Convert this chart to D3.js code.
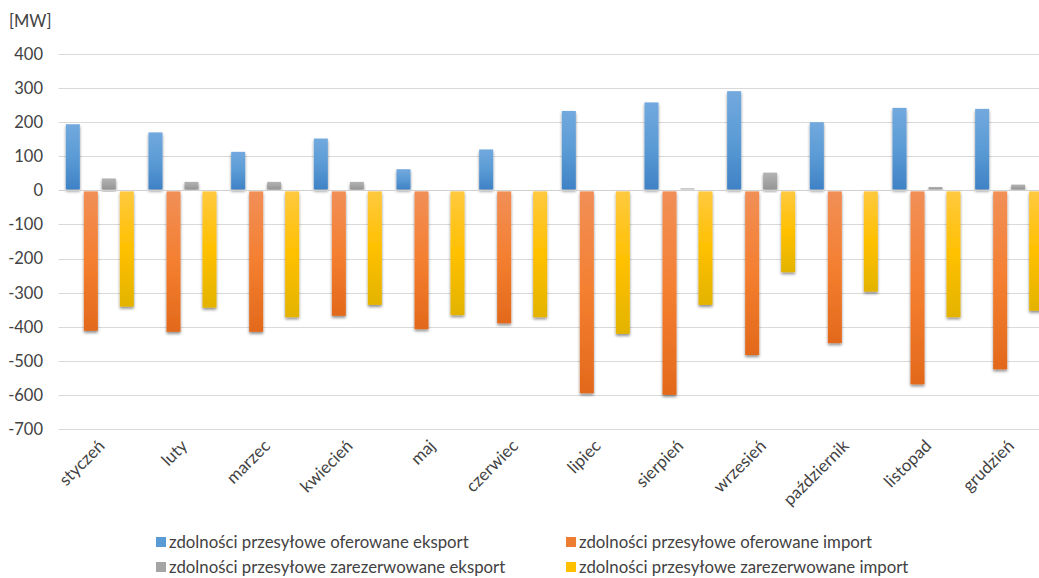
<!DOCTYPE html>
<html>
<head>
<meta charset="utf-8">
<script src="https://cdn.jsdelivr.net/npm/d3@7"></script>
<style>
  html, body { margin: 0; padding: 0; background: #fff; }
  svg { display: block; }
  text { font-family: Lato, "Open Sans", "Liberation Sans", sans-serif; fill: #424242; }
</style>
</head>
<body>
<svg id="chart" width="1039" height="578"></svg>
<script>
// Months (category axis)
const months = ["styczeń", "luty", "marzec", "kwiecień", "maj", "czerwiec",
                "lipiec", "sierpień", "wrzesień", "październik", "listopad", "grudzień"];

// Series names
const seriesNames = [
  "zdolności przesyłowe oferowane eksport",
  "zdolności przesyłowe oferowane import",
  "zdolności przesyłowe zarezerwowane eksport",
  "zdolności przesyłowe zarezerwowane import"
];

// Values in MW per month
const offeredExport  = [194, 170, 113, 152, 62, 120, 233, 258, 291, 200, 242, 239];
const offeredImport  = [-412, -415, -415, -368, -407, -390, -595, -600, -483, -448, -569, -525];
const reservedExport = [35, 25, 25, 25, 0, 0, 0, 6, 52, 0, 10, 17];
const reservedImport = [-341, -344, -372, -336, -366, -372, -421, -336, -240, -297, -372, -353];

// Y axis ticks
const yTicks = [400, 300, 200, 100, 0, -100, -200, -300, -400, -500, -600, -700];

const seriesValues = [offeredExport, offeredImport, reservedExport, reservedImport];

// Gradient stops per series (top, middle, bottom)
const seriesColors = [
  ["#72a9de", "#5b9bd5", "#3f82c6"],
  ["#f18f57", "#f47f30", "#e2691b"],
  ["#b3b3b3", "#a5a5a5", "#959595"],
  ["#ffc93f", "#ffc000", "#e3b300"]
];
const legendSwatch = ["#5b9bd5", "#ed7d31", "#a5a5a5", "#ffc000"];

const svg = d3.select("#chart");
const defs = svg.append("defs");

seriesColors.forEach((c, i) => {
  const g = defs.append("linearGradient")
    .attr("id", "grad" + i)
    .attr("x1", 0).attr("y1", 0).attr("x2", 0).attr("y2", 1);
  g.append("stop").attr("offset", "0%").attr("stop-color", c[0]);
  g.append("stop").attr("offset", "50%").attr("stop-color", c[1]);
  g.append("stop").attr("offset", "100%").attr("stop-color", c[2]);
});

// Soft drop shadow under the bars
const f = defs.append("filter").attr("id", "shadow")
  .attr("x", "-30%").attr("y", "-10%").attr("width", "160%").attr("height", "130%");
f.append("feGaussianBlur").attr("in", "SourceAlpha").attr("stdDeviation", 1.4).attr("result", "b");
f.append("feOffset").attr("in", "b").attr("dx", 0).attr("dy", 2).attr("result", "o");
f.append("feComponentTransfer").attr("in", "o").attr("result", "s")
  .append("feFuncA").attr("type", "linear").attr("slope", 0.45);
const m = f.append("feMerge");
m.append("feMergeNode").attr("in", "s");
m.append("feMergeNode").attr("in", "SourceGraphic");

const plotLeft = 58.5, plotRight = 1050.5;
const y = d3.scaleLinear().domain([-700, 400]).range([429, 54]);

const x0 = d3.scaleBand().domain(months).range([plotLeft, plotRight]).padding(0);
const groupGap = 14.67;
const x1 = d3.scaleBand().domain(d3.range(4))
  .range([groupGap / 2, x0.bandwidth() - groupGap / 2])
  .paddingInner(4 / 18).paddingOuter(0);

// Gridlines
svg.append("g").selectAll("line").data(yTicks.filter(d => d !== 0)).join("line")
  .attr("x1", plotLeft).attr("x2", 1039)
  .attr("y1", d => Math.round(y(d)) + 0.5).attr("y2", d => Math.round(y(d)) + 0.5)
  .attr("stroke", "#d9d9d9").attr("stroke-width", 1);

// Y tick labels
svg.append("g").selectAll("text").data(yTicks).join("text")
  .attr("x", 43).attr("y", d => y(d))
  .attr("dy", "0.36em")
  .attr("text-anchor", "end")
  .style("font-size", "16.5px")
  .text(d => d);

// Unit label
svg.append("text").attr("x", 9).attr("y", 27)
  .style("font-size", "16.5px").text("[MW]");

// Bars
const groups = svg.append("g").selectAll("g").data(months).join("g")
  .attr("transform", d => `translate(${x0(d)},0)`);

groups.selectAll("rect")
  .data((d, mi) => seriesValues.map((vals, si) => ({ si, v: vals[mi] })).filter(e => e.v !== 0))
  .join("rect")
  .attr("x", d => x1(d.si))
  .attr("width", x1.bandwidth())
  .attr("y", d => d.v > 0 ? y(d.v) : y(0) + 1)
  .attr("height", d => d.v > 0 ? y(0) - 1 - y(d.v) : y(d.v) - y(0) - 1)
  .attr("fill", d => `url(#grad${d.si})`)
  .attr("filter", "url(#shadow)");

// Zero axis line
svg.append("line")
  .attr("x1", plotLeft).attr("x2", 1039)
  .attr("y1", Math.round(y(0)) + 0.5).attr("y2", Math.round(y(0)) + 0.5)
  .attr("stroke", "#d0d0d0").attr("stroke-width", 1.2);

// Category labels, rotated
svg.append("g").selectAll("text").data(months).join("text")
  .attr("transform", d => `translate(${x0(d) + x0.bandwidth() / 2 + 6},${447}) rotate(-45)`)
  .attr("text-anchor", "end")
  .style("font-size", "17px")
  .text(d => d);

// Legend
const legendPos = [[156, 542], [566, 542], [156, 567], [566, 567]];
const leg = svg.append("g").selectAll("g").data(seriesNames).join("g")
  .attr("transform", (d, i) => `translate(${legendPos[i][0]},${legendPos[i][1]})`);
leg.append("rect").attr("x", 0).attr("y", -5).attr("width", 10).attr("height", 10)
  .attr("fill", (d, i) => legendSwatch[i]);
leg.append("text").attr("x", 13).attr("y", 0).attr("dy", "0.35em")
  .style("font-size", "16.8px")
  .text(d => d);
</script>
</body>
</html>
